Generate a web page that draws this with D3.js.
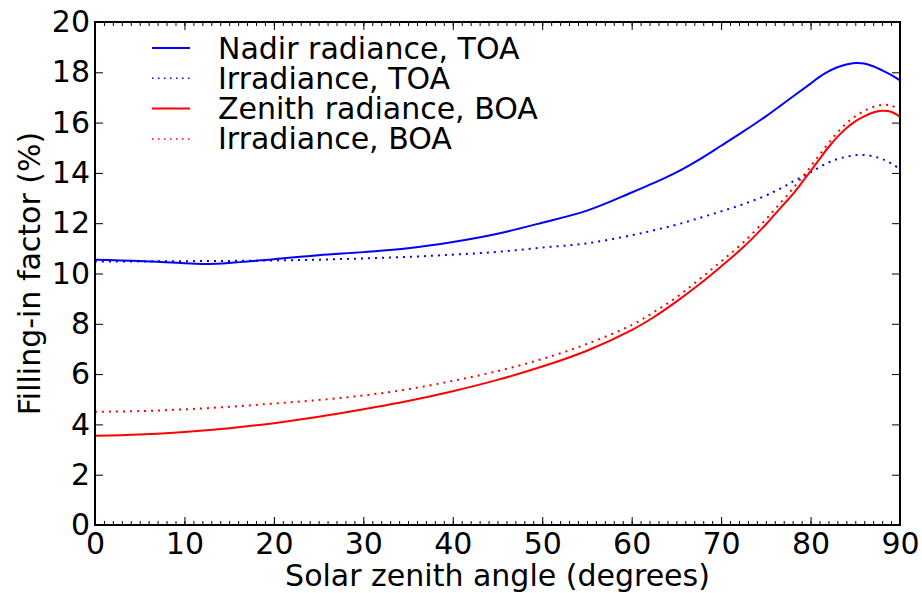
<!DOCTYPE html>
<html>
<head>
<meta charset="utf-8">
<script src="https://cdn.jsdelivr.net/npm/d3@7"></script>
<style>
	body { margin: 0; background: #fff; }
	svg text { font-family: "DejaVu Sans", sans-serif; fill: #000; }
</style>
</head>
<body>
<svg id="chart" width="922" height="593"></svg>
<script>
// solar zenith angle (degrees)
var angles = [0, 5, 10, 12.5, 15, 20, 25, 30, 35, 40, 45, 50, 55, 60, 62.5, 65, 67.5, 70, 72.5, 75, 77.5, 80, 81, 82, 83, 84, 85, 86, 87, 88, 89, 90];
var nadir_toa = [10.55, 10.5, 10.41, 10.38, 10.42, 10.57, 10.73, 10.85, 11.0, 11.25, 11.58, 12.02, 12.5, 13.22, 13.6, 14.02, 14.52, 15.08, 15.65, 16.25, 16.9, 17.55, 17.82, 18.04, 18.2, 18.31, 18.37, 18.35, 18.24, 18.08, 17.9, 17.68];

var angles_b = [0, 5, 10, 15, 20, 25, 30, 35, 40, 45, 50, 55, 60, 62.5, 65, 67.5, 70, 72.5, 75, 76, 77, 78, 79, 80, 81, 82, 83, 84, 85, 86, 87, 88, 89, 90];
var irr_toa = [10.48, 10.48, 10.49, 10.5, 10.52, 10.55, 10.6, 10.66, 10.75, 10.86, 11.03, 11.2, 11.52, 11.72, 11.94, 12.2, 12.47, 12.76, 13.1, 13.27, 13.45, 13.65, 13.83, 14.02, 14.23, 14.41, 14.55, 14.64, 14.7, 14.71, 14.66, 14.55, 14.38, 14.15];
var zenith_boa = [3.55, 3.6, 3.7, 3.85, 4.05, 4.3, 4.6, 4.93, 5.32, 5.77, 6.3, 6.93, 7.75, 8.27, 8.88, 9.55, 10.28, 11.05, 11.95, 12.35, 12.75, 13.15, 13.6, 14.07, 14.55, 15.02, 15.43, 15.78, 16.05, 16.25, 16.4, 16.47, 16.43, 16.23];
var irr_boa = [4.5, 4.53, 4.6, 4.7, 4.83, 4.97, 5.15, 5.4, 5.73, 6.12, 6.6, 7.2, 7.95, 8.47, 9.05, 9.75, 10.48, 11.24, 12.15, 12.55, 12.95, 13.37, 13.8, 14.25, 14.72, 15.18, 15.6, 15.97, 16.25, 16.47, 16.62, 16.7, 16.68, 16.5];

var x_ticks = [0, 10, 20, 30, 40, 50, 60, 70, 80, 90];
var y_ticks = [0, 2, 4, 6, 8, 10, 12, 14, 16, 18, 20];

var series = [
	{name: "Nadir radiance, TOA", xs: angles, ys: nadir_toa, color: "#0000ff", dotted: false},
	{name: "Irradiance, TOA", xs: angles_b, ys: irr_toa, color: "#0000ff", dotted: true},
	{name: "Zenith radiance, BOA", xs: angles_b, ys: zenith_boa, color: "#ff0000", dotted: false},
	{name: "Irradiance, BOA", xs: angles_b, ys: irr_boa, color: "#ff0000", dotted: true}
];

var margin = {top: 22, right: 22, bottom: 68, left: 95};
var width = 922 - margin.left - margin.right;
var height = 593 - margin.top - margin.bottom;

var svg = d3.select("#chart");
var g = svg.append("g").attr("transform", "translate(" + margin.left + "," + margin.top + ")");

var x = d3.scaleLinear().domain([0, 90]).range([0, width]);
var y = d3.scaleLinear().domain([0, 20]).range([height, 0]);

var minor_x = d3.range(0, 91, 1);

// ticks point inward on all four sides, like matplotlib classic
function draw_axis(axis, transform){
	var a = g.append("g").attr("transform", transform).call(axis);
	a.select(".domain").remove();
	a.selectAll("line").attr("stroke", "#000").attr("stroke-width", 1);
	return a;
}

draw_axis(d3.axisBottom(x).tickValues(minor_x).tickSize(-4).tickFormat(""), "translate(0," + height + ")");
draw_axis(d3.axisTop(x).tickValues(minor_x).tickSize(-4).tickFormat(""), "translate(0,0)");
draw_axis(d3.axisTop(x).tickValues(x_ticks).tickSize(-8).tickFormat(""), "translate(0,0)");
draw_axis(d3.axisRight(y).tickValues(y_ticks).tickSize(-8).tickFormat(""), "translate(" + width + ",0)");

var xa = draw_axis(d3.axisBottom(x).tickValues(x_ticks).tickSize(-8).tickPadding(8), "translate(0," + height + ")");
xa.selectAll("text").attr("font-size", 30).attr("dy", "0.71em");

var ya = draw_axis(d3.axisLeft(y).tickValues(y_ticks).tickSize(-8).tickPadding(5), "translate(0,0)");
ya.selectAll("text").attr("font-size", 30);

var line = d3.line().curve(d3.curveCatmullRom.alpha(0.5));

series.forEach(function(s){
	var pts = s.xs.map(function(v, i){ return [x(v), y(s.ys[i])]; });
	var path = g.append("path")
		.attr("d", line(pts))
		.attr("fill", "none")
		.attr("stroke", s.color)
		.attr("stroke-width", 2);
	if(s.dotted) path.attr("stroke-dasharray", "2,5");
});

// frame
g.append("rect")
	.attr("width", width)
	.attr("height", height)
	.attr("fill", "none")
	.attr("stroke", "#000")
	.attr("stroke-width", 2);

// legend
var legend = g.append("g").attr("transform", "translate(57,26)");
series.forEach(function(s, i){
	var row = legend.append("g").attr("transform", "translate(0," + (i * 30.3) + ")");
	var l = row.append("line")
		.attr("x1", 0).attr("x2", 38)
		.attr("y1", 0).attr("y2", 0)
		.attr("stroke", s.color)
		.attr("stroke-width", s.dotted ? 1.5 : 2);
	if(s.dotted) l.attr("stroke-dasharray", "1.5,4.5");
	row.append("text")
		.attr("x", 66)
		.attr("y", 10.5)
		.attr("font-size", 30)
		.text(s.name);
});

svg.append("text")
	.attr("x", margin.left + width / 2)
	.attr("y", 586)
	.attr("text-anchor", "middle")
	.attr("font-size", 30)
	.text("Solar zenith angle (degrees)");

svg.append("text")
	.attr("transform", "translate(40," + (margin.top + height / 2) + ") rotate(-90)")
	.attr("text-anchor", "middle")
	.attr("font-size", 30)
	.text("Filling-in factor (%)");
</script>
</body>
</html>
